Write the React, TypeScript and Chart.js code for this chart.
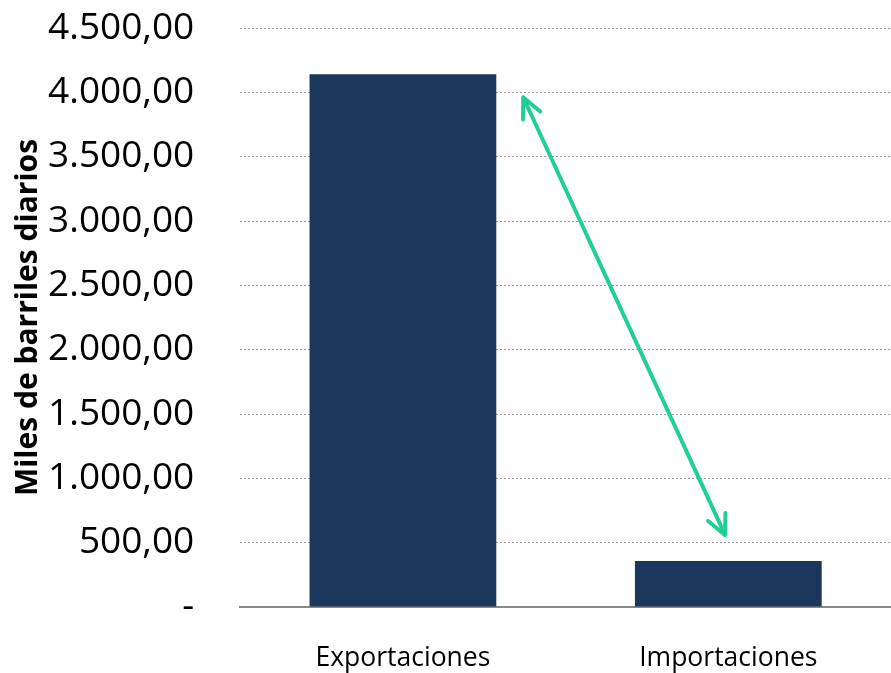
import React, { useEffect, useRef } from "react";
import { Chart, registerables } from "chart.js";

Chart.register(...registerables);

const categories = ["Exportaciones", "Importaciones"];
const values = [4140, 357];
const yTicks = [0, 500, 1000, 1500, 2000, 2500, 3000, 3500, 4000, 4500];
const yTitle = "Miles de barriles diarios";
// double-headed arrow annotation in data coordinates: [category index, value]
const arrowStart = [0.37, 3960];
const arrowEnd = [0.99, 560];

function fmt(v: number): string {
  if (v === 0) return "-";
  const fixed = v.toFixed(2);
  const [intPart, dec] = fixed.split(".");
  const withDots = intPart.replace(/\B(?=(\d{3})+(?!\d))/g, ".");
  return withDots + "," + dec;
}

const arrowPlugin = {
  id: "arrowPlugin",
  afterDatasetsDraw(chart: any) {
    const ctx = chart.ctx;
    const xs = chart.scales.x;
    const ys = chart.scales.y;
    const x1 = xs.getPixelForValue(arrowStart[0]);
    const y1 = ys.getPixelForValue(arrowStart[1]);
    const x2 = xs.getPixelForValue(arrowEnd[0]);
    const y2 = ys.getPixelForValue(arrowEnd[1]);
    ctx.save();
    ctx.strokeStyle = "#1fcf95";
    ctx.lineWidth = 4;
    ctx.lineCap = "round";
    ctx.lineJoin = "round";
    ctx.beginPath();
    ctx.moveTo(x1, y1);
    ctx.lineTo(x2, y2);
    ctx.stroke();
    const head = (tx: number, ty: number, fx: number, fy: number) => {
      const ang = Math.atan2(ty - fy, tx - fx);
      const len = 22;
      const spread = Math.PI / 7;
      ctx.beginPath();
      ctx.moveTo(tx - len * Math.cos(ang - spread), ty - len * Math.sin(ang - spread));
      ctx.lineTo(tx, ty);
      ctx.lineTo(tx - len * Math.cos(ang + spread), ty - len * Math.sin(ang + spread));
      ctx.stroke();
    };
    head(x1, y1, x2, y2);
    head(x2, y2, x1, y1);
    ctx.restore();
  },
};

export default function App() {
  const ref = useRef<HTMLCanvasElement | null>(null);
  useEffect(() => {
    document.body.style.margin = "0";
    const canvas = ref.current!;
    const chart = new Chart(canvas, {
      type: "bar",
      data: {
        labels: categories,
        datasets: [
          {
            data: values,
            backgroundColor: "#1b375e",
            borderWidth: 0,
            categoryPercentage: 1,
            barPercentage: 0.574,
          },
        ],
      },
      options: {
        animation: false,
        responsive: false,
        layout: { padding: { top: 28, right: 0, left: 10, bottom: 0 } },
        plugins: {
          legend: { display: false },
          tooltip: { enabled: false },
        },
        scales: {
          x: {
            grid: { display: false, drawTicks: false },
            border: { display: true, color: "#888888", width: 2 },
            ticks: {
              color: "#000",
              padding: 36,
              font: { family: "Open Sans", size: 26.5 },
            },
            afterFit(scale: any) {
              scale.height = 66;
            },
          },
          y: {
            min: 0,
            max: 4500,
            afterBuildTicks(scale: any) {
              scale.ticks = yTicks.map((v) => ({ value: v }));
            },
            grid: {
              color: "#999999",
              lineWidth: 1,
              drawTicks: true,
              tickLength: 44,
              tickColor: "rgba(0,0,0,0)",
            },
            border: { display: false, dash: [2, 2] },
            ticks: {
              color: "#000",
              padding: 2,
              font: { family: "Open Sans", size: 37 },
              callback: (v: any) => fmt(Number(v)),
            },
            title: {
              display: true,
              text: yTitle,
              color: "#000",
              padding: { top: 0, bottom: 0 },
              font: { family: "Open Sans", size: 30, weight: "bold" },
            },
          },
        },
      },
      plugins: [arrowPlugin],
    } as any);
    return () => chart.destroy();
  }, []);
  return (
    <div style={{ width: 891, height: 673 }}>
      <canvas ref={ref} width={891} height={673} />
    </div>
  );
}
